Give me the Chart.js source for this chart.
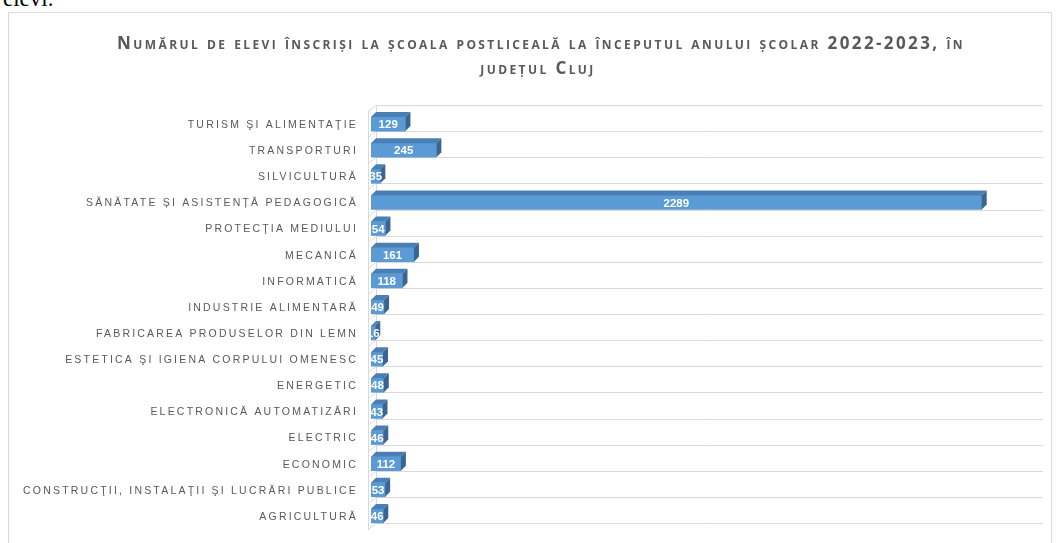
<!DOCTYPE html>
<html>
<head>
<meta charset="utf-8">
<script src="https://cdn.jsdelivr.net/npm/chart.js@4"></script>
<style>
  body { margin: 0; background: #fff; overflow: hidden; }
  #above { position: absolute; left: 3px; top: -14px; font: 23px 'Liberation Serif', serif; color: #000; }
  #frame { position: absolute; left: 8px; top: 12px; width: 1044px; height: 560px; border: 1px solid #d9d9d9; box-sizing: border-box; }
  #wrap { position: absolute; left: 0; top: 0; width: 1056px; height: 543px; }
</style>
</head>
<body>
<div id="above">elevi.</div>
<div id="frame"></div>
<div id="wrap"><canvas id="chart"></canvas></div>
<script>
// Elevi inscrisi la scoala postliceala, Cluj 2022-2023
const titleLines = [
  "Numărul de elevi înscriși la școala postliceală la începutul anului școlar 2022-2023, în",
  "județul Cluj"
];

const categories = [
  "TURISM ŞI ALIMENTAŢIE",
  "TRANSPORTURI",
  "SILVICULTURĂ",
  "SĂNĂTATE ȘI ASISTENȚĂ PEDAGOGICĂ",
  "PROTECŢIA MEDIULUI",
  "MECANICĂ",
  "INFORMATICĂ",
  "INDUSTRIE ALIMENTARĂ",
  "FABRICAREA PRODUSELOR DIN LEMN",
  "ESTETICA ŞI IGIENA CORPULUI OMENESC",
  "ENERGETIC",
  "ELECTRONICĂ AUTOMATIZĂRI",
  "ELECTRIC",
  "ECONOMIC",
  "CONSTRUCŢII, INSTALAŢII ŞI LUCRĂRI PUBLICE",
  "AGRICULTURĂ"
];
const students = [129, 245, 35, 2289, 54, 161, 118, 49, 16, 45, 48, 43, 46, 112, 53, 46];
const xMax = 2500;

const depth = 5;
const grey = '#595959';

// fake 3D: back wall lines, label text, bar faces
const excel3d = {
  id: 'excel3d',
  beforeDatasetsDraw(chart) {
    const { ctx, chartArea: a, scales: { y } } = chart;
    const step = (a.bottom - a.top) / categories.length;
    ctx.save();
    ctx.strokeStyle = '#d9d9d9';
    ctx.lineWidth = 1;
    ctx.beginPath();
    for (let i = 0; i <= categories.length; i++) {
      const b = Math.round(a.top + i * step) + 0.5;
      ctx.moveTo(a.left - 3, b);
      ctx.lineTo(a.left - 3 + depth + 3, b - depth - 1);
      ctx.lineTo(a.right + depth, b - depth - 1);
    }
    ctx.moveTo(a.left - 2.5, a.top - 0.5);
    ctx.lineTo(a.left - 2.5, a.bottom + 0.5);
    ctx.moveTo(a.left + depth + 0.5, a.top - depth - 1);
    ctx.lineTo(a.left + depth + 0.5, a.bottom - depth - 1);
    ctx.stroke();

    // category labels with letter spacing
    ctx.fillStyle = grey;
    ctx.font = "10.5px 'Liberation Sans', sans-serif";
    ctx.letterSpacing = '2.2px';
    ctx.textAlign = 'right';
    ctx.textBaseline = 'middle';
    categories.forEach((c, i) => {
      ctx.fillText(c, a.left - 13, y.getPixelForValue(i) + 1);
    });
    ctx.restore();
  },
  afterDatasetsDraw(chart) {
    const { ctx, chartArea: a } = chart;
    const meta = chart.getDatasetMeta(0);
    ctx.save();
    meta.data.forEach((bar, i) => {
      const { x, y, base, height } = bar.getProps(['x', 'y', 'base', 'height'], true);
      const top = y - height / 2, bot = y + height / 2;
      // top face
      ctx.fillStyle = '#4a7fb5';
      ctx.beginPath();
      ctx.moveTo(base, top);
      ctx.lineTo(base + depth, top - depth);
      ctx.lineTo(x + depth, top - depth);
      ctx.lineTo(x, top);
      ctx.closePath();
      ctx.fill();
      // side face
      ctx.fillStyle = '#3a6591';
      ctx.beginPath();
      ctx.moveTo(x, top);
      ctx.lineTo(x + depth, top - depth);
      ctx.lineTo(x + depth, bot - depth);
      ctx.lineTo(x, bot);
      ctx.closePath();
      ctx.fill();
    });
    // value labels
    ctx.beginPath();
    ctx.rect(a.left, 0, chart.width, chart.height);
    ctx.clip();
    ctx.fillStyle = '#fff';
    ctx.font = "bold 11.5px 'Liberation Sans', sans-serif";
    ctx.textAlign = 'center';
    ctx.textBaseline = 'middle';
    meta.data.forEach((bar, i) => {
      const { x, y, base } = bar.getProps(['x', 'y', 'base'], true);
      ctx.fillText(String(students[i]), (x + base) / 2, y + 1);
    });
    ctx.restore();
  },
  afterDraw(chart) {
    const ctx = chart.ctx;
    ctx.save();
    ctx.fillStyle = grey;
    ctx.font = "bold 17px 'Open Sans', sans-serif";
    ctx.fontVariantCaps = 'small-caps';
    ctx.letterSpacing = '2.4px';
    ctx.textAlign = 'center';
    ctx.textBaseline = 'middle';
    ctx.fillText(titleLines[0], 541, 44);
    ctx.fillText(titleLines[1], 538, 69);
    ctx.restore();
  }
};

new Chart(document.getElementById('chart'), {
  type: 'bar',
  data: {
    labels: categories,
    datasets: [{
      data: students,
      backgroundColor: '#5b9bd5',
      borderWidth: 0,
      barThickness: 14
    }]
  },
  options: {
    indexAxis: 'y',
    responsive: true,
    maintainAspectRatio: false,
    animation: false,
    layout: { padding: { left: 371, right: 18, top: 111, bottom: 14 } },
    plugins: {
      legend: { display: false },
      tooltip: { enabled: false }
    },
    scales: {
      x: { display: false, min: 0, max: xMax },
      y: { display: false }
    }
  },
  plugins: [excel3d]
});
</script>
</body>
</html>
